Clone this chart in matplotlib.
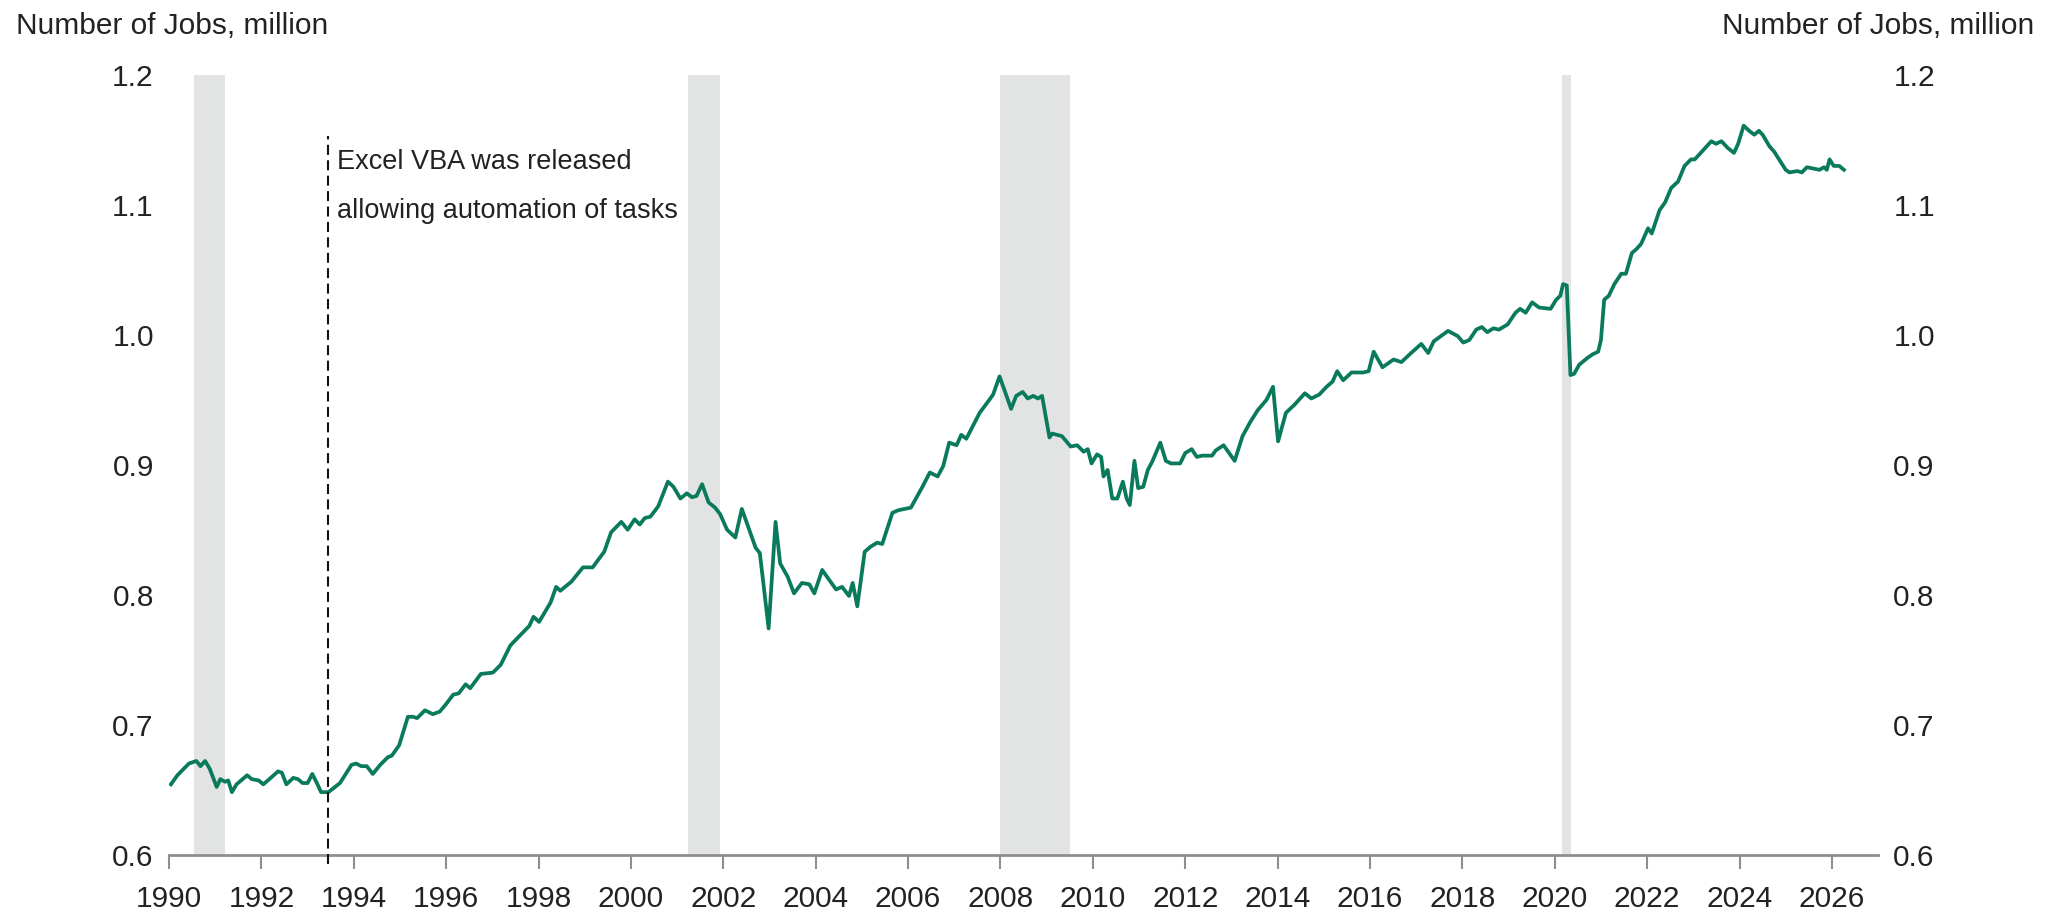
import numpy as np
import matplotlib
matplotlib.use("Agg")
import matplotlib.pyplot as plt

plt.rcParams['font.family'] = ['Liberation Sans', 'DejaVu Sans']

# values (decimal year, million jobs)
dates_1990s = [1990.04, 1990.18, 1990.43, 1990.59, 1990.68, 1990.78, 1990.88, 1991.03, 1991.11, 1991.21,
               1991.28, 1991.36, 1991.46, 1991.69, 1991.79, 1991.94, 1992.04, 1992.17, 1992.36, 1992.44,
               1992.54, 1992.69, 1992.79, 1992.89, 1993.00, 1993.10, 1993.20, 1993.29, 1993.45, 1993.70,
               1993.95, 1994.05, 1994.16, 1994.28, 1994.41, 1994.57, 1994.74, 1994.82, 1994.98, 1995.17,
               1995.28, 1995.37, 1995.54, 1995.71, 1995.86, 1995.98, 1996.15, 1996.27, 1996.42, 1996.52,
               1996.75, 1997.01, 1997.18, 1997.39, 1997.80, 1997.89, 1998.01, 1998.26, 1998.38, 1998.47,
               1998.71, 1998.96, 1999.17, 1999.42, 1999.57, 1999.79, 1999.93]
jobs_1990s = [0.654, 0.661, 0.670, 0.672, 0.668, 0.672, 0.666, 0.652, 0.658, 0.656,
              0.657, 0.648, 0.654, 0.661, 0.658, 0.657, 0.654, 0.658, 0.664, 0.663,
              0.654, 0.659, 0.658, 0.655, 0.655, 0.662, 0.655, 0.648, 0.648, 0.655,
              0.669, 0.670, 0.668, 0.668, 0.662, 0.669, 0.675, 0.676, 0.684, 0.706,
              0.706, 0.705, 0.711, 0.708, 0.710, 0.715, 0.723, 0.724, 0.731, 0.728,
              0.739, 0.740, 0.746, 0.761, 0.776, 0.783, 0.779, 0.794, 0.806, 0.803,
              0.810, 0.821, 0.821, 0.833, 0.848, 0.856, 0.850]

dates_2000s = [2000.08, 2000.19, 2000.30, 2000.42, 2000.59, 2000.80, 2000.92, 2001.07, 2001.21, 2001.32,
               2001.42, 2001.54, 2001.68, 2001.82, 2001.93, 2002.08, 2002.26, 2002.40, 2002.58, 2002.70,
               2002.79, 2002.98, 2003.13, 2003.23, 2003.39, 2003.53, 2003.70, 2003.86, 2003.97, 2004.14,
               2004.30, 2004.44, 2004.57, 2004.72, 2004.80, 2004.90, 2005.06, 2005.19, 2005.33, 2005.44,
               2005.66, 2005.79, 2006.06, 2006.31, 2006.47, 2006.64, 2006.76, 2006.89, 2007.05, 2007.15,
               2007.26, 2007.55, 2007.76, 2007.84, 2007.98, 2008.23, 2008.34, 2008.48, 2008.59, 2008.71,
               2008.81, 2008.90, 2009.06, 2009.12, 2009.33, 2009.52, 2009.66, 2009.80, 2009.89]
jobs_2000s = [0.858, 0.854, 0.859, 0.860, 0.868, 0.887, 0.883, 0.874, 0.878, 0.875,
              0.876, 0.885, 0.871, 0.867, 0.862, 0.850, 0.844, 0.866, 0.848, 0.836,
              0.832, 0.774, 0.856, 0.824, 0.814, 0.801, 0.809, 0.808, 0.801, 0.819,
              0.811, 0.804, 0.806, 0.799, 0.809, 0.791, 0.833, 0.837, 0.840, 0.839,
              0.863, 0.865, 0.867, 0.883, 0.894, 0.891, 0.899, 0.917, 0.915, 0.923,
              0.920, 0.940, 0.950, 0.954, 0.968, 0.943, 0.953, 0.956, 0.951, 0.953,
              0.951, 0.953, 0.921, 0.924, 0.922, 0.914, 0.915, 0.910, 0.912]

dates_2010s = [2009.97, 2010.09, 2010.18, 2010.23, 2010.32, 2010.42, 2010.53, 2010.65, 2010.73, 2010.80,
               2010.90, 2010.98, 2011.09, 2011.19, 2011.28, 2011.46, 2011.58, 2011.69, 2011.89, 2012.00,
               2012.14, 2012.25, 2012.37, 2012.58, 2012.66, 2012.83, 2012.95, 2013.07, 2013.24, 2013.41,
               2013.57, 2013.76, 2013.90, 2014.01, 2014.18, 2014.36, 2014.59, 2014.73, 2014.90, 2015.06,
               2015.19, 2015.29, 2015.42, 2015.60, 2015.85, 2015.97, 2016.08, 2016.27, 2016.51, 2016.68,
               2016.89, 2017.11, 2017.26, 2017.38, 2017.69, 2017.90, 2018.02, 2018.15, 2018.30, 2018.42,
               2018.54, 2018.67, 2018.79, 2018.98, 2019.15, 2019.25, 2019.37, 2019.51, 2019.66, 2019.91]
jobs_2010s = [0.901, 0.908, 0.906, 0.891, 0.896, 0.874, 0.874, 0.887, 0.874, 0.869,
              0.903, 0.882, 0.883, 0.896, 0.902, 0.917, 0.903, 0.901, 0.901, 0.909,
              0.912, 0.906, 0.907, 0.907, 0.911, 0.915, 0.909, 0.903, 0.922, 0.933,
              0.942, 0.950, 0.960, 0.918, 0.940, 0.946, 0.955, 0.951, 0.954, 0.960,
              0.964, 0.972, 0.965, 0.971, 0.971, 0.972, 0.987, 0.975, 0.981, 0.979,
              0.986, 0.993, 0.986, 0.995, 1.003, 0.999, 0.994, 0.996, 1.004, 1.006,
              1.002, 1.005, 1.004, 1.008, 1.017, 1.020, 1.017, 1.025, 1.021, 1.020]

dates_2020s = [2020.03, 2020.12, 2020.18, 2020.26, 2020.34, 2020.42, 2020.53, 2020.70, 2020.82, 2020.94,
               2021.00, 2021.07, 2021.17, 2021.29, 2021.44, 2021.54, 2021.67, 2021.77, 2021.87, 2022.02,
               2022.10, 2022.27, 2022.39, 2022.52, 2022.67, 2022.81, 2022.95, 2023.03, 2023.16, 2023.39,
               2023.49, 2023.61, 2023.74, 2023.88, 2023.97, 2024.09, 2024.21, 2024.32, 2024.42, 2024.50,
               2024.65, 2024.75, 2025.00, 2025.08, 2025.25, 2025.35, 2025.46, 2025.60, 2025.73, 2025.83,
               2025.89, 2025.95, 2026.04, 2026.16, 2026.26]
jobs_2020s = [1.027, 1.030, 1.039, 1.038, 0.969, 0.970, 0.977, 0.982, 0.985, 0.987,
              0.996, 1.027, 1.030, 1.039, 1.047, 1.047, 1.063, 1.066, 1.070, 1.082,
              1.078, 1.096, 1.102, 1.113, 1.118, 1.130, 1.135, 1.135, 1.140, 1.149,
              1.147, 1.149, 1.144, 1.140, 1.147, 1.161, 1.157, 1.154, 1.157, 1.154,
              1.145, 1.141, 1.127, 1.125, 1.126, 1.125, 1.129, 1.128, 1.127, 1.129,
              1.127, 1.135, 1.130, 1.130, 1.127]

recession_start = [1990.55, 2001.23, 2007.98, 2020.15]
recession_end = [1991.21, 2001.92, 2009.50, 2020.35]

x_ticks = list(range(1990, 2027, 2))
y_ticks = [0.6, 0.7, 0.8, 0.9, 1.0, 1.1, 1.2]

dates = dates_1990s + dates_2000s + dates_2010s + dates_2020s
jobs = jobs_1990s + jobs_2000s + jobs_2010s + jobs_2020s

text_color = '#222222'
axis_gray = '#8e8e8e'

fig = plt.figure(figsize=(20.67, 9.22), dpi=100)
ax = fig.add_axes([0.0818, 0.0732, 0.8268, 0.8455])

for s, e in zip(recession_start, recession_end):
    ax.axvspan(s, e, color='#e2e3e3', lw=0, zorder=0)

ax.plot(dates, jobs, color='#0a7a5c', lw=2.7, zorder=3, solid_joinstyle='round')

# Excel VBA marker
vba_year = 1993.45
ax.plot([vba_year, vba_year], [0.593, 1.153], color='#111111', lw=1.5,
        linestyle=(0, (4.8, 2.6)), clip_on=False, zorder=4)
ax.text(vba_year + 0.18, 1.133, "Excel VBA was released", fontsize=19.5,
        color=text_color, ha='left', va='center')
ax.text(vba_year + 0.18, 1.095, "allowing automation of tasks", fontsize=19.5,
        color=text_color, ha='left', va='center')

ax.set_xlim(1990, 2027)
ax.set_ylim(0.6, 1.2)
ax.set_xticks(x_ticks)
ax.set_yticks(y_ticks)
ax.set_yticklabels([f"{v:.1f}" for v in y_ticks])

for side in ['top', 'left', 'right']:
    ax.spines[side].set_visible(False)
ax.spines['bottom'].set_color(axis_gray)
ax.spines['bottom'].set_linewidth(2)

ax.tick_params(axis='x', direction='out', length=10, width=1.5, color=axis_gray,
               labelsize=21.5, labelcolor=text_color, pad=12)
ax.tick_params(axis='y', length=0, labelsize=21.5, labelcolor=text_color,
               labelleft=True, labelright=True, pad=11)

fig.text(0.0077, 0.972, "Number of Jobs, million", fontsize=21.5, color=text_color,
         ha='left', va='center')
fig.text(0.984, 0.972, "Number of Jobs, million", fontsize=21.5, color=text_color,
         ha='right', va='center')

fig.savefig("out.png", dpi=100, facecolor='white')
